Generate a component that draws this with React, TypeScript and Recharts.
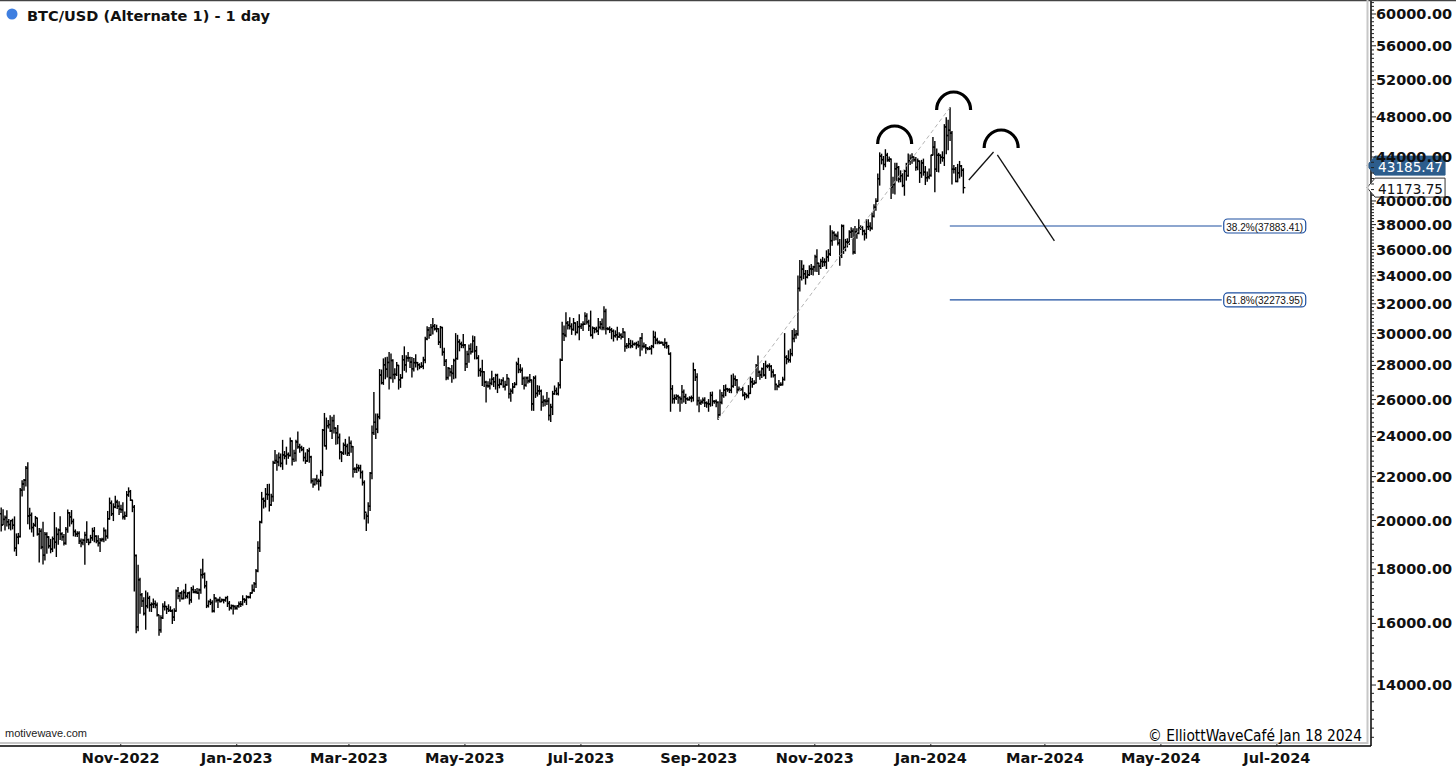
import React from 'react';
import { ComposedChart, Bar, XAxis, YAxis, ReferenceLine, ReferenceDot } from 'recharts';

// daily bars as [high, low, close] in USD thousands; open = previous close
type Day = [number, number, number];

const START = Date.UTC(2022, 7, 30);
const TOTAL_DAYS = 721;
const FIRST_OPEN = 20.3;

const aug22: Day[] = [[20.55,19.55,19.81],[20.48,19.83,20.05]];
const sep22: Day[] = [[20.2,19.6,20.13],[20.43,19.77,19.95],[20.05,19.65,19.83],[20.0,19.6,20.0],[20.06,19.64,19.8],[20.16,18.72,18.84],[19.43,18.54,19.29],[19.45,19.02,19.32],[21.44,19.3,21.36],[21.8,21.1,21.65],[21.86,21.36,21.83],[22.49,21.56,22.4],[22.67,19.86,20.2],[20.54,19.64,20.23],[20.33,19.51,19.7],[19.88,19.33,19.8],[20.18,19.75,20.11],[20.1,19.38,19.42],[19.66,18.28,19.54],[19.64,18.81,18.88],[19.93,18.2,18.55],[19.49,18.36,19.41],[19.48,18.63,19.3],[19.31,18.84,18.93],[19.2,18.65,18.8],[19.3,18.7,19.23],[20.35,18.84,19.08],[19.69,18.5,19.41],[19.64,19.0,19.59],[20.17,19.2,19.43]];
const oct22: Day[] = [[19.48,19.16,19.31],[19.4,18.97,19.04],[19.7,19.0,19.62],[20.46,19.5,20.34],[20.35,19.76,20.16],[20.44,19.86,19.96],[20.06,19.35,19.53],[19.6,19.33,19.42],[19.52,19.32,19.45],[19.52,19.03,19.13],[19.22,18.9,19.06],[19.21,18.98,19.16],[19.5,18.19,19.38],[19.95,19.07,19.19],[19.21,18.98,19.07],[19.37,19.07,19.27],[19.67,19.16,19.55],[19.7,19.1,19.33],[19.35,19.06,19.14],[19.35,18.93,19.05],[19.24,18.7,19.17],[19.25,19.12,19.2],[19.68,19.1,19.57],[19.6,19.16,19.33],[20.4,19.25,20.08],[21.0,20.06,20.77],[20.87,20.22,20.3],[20.74,20.0,20.6],[21.08,20.56,20.82],[20.9,20.53,20.63],[20.83,20.26,20.5]];
const nov22: Day[] = [[20.67,20.35,20.48],[20.79,20.07,20.16],[20.38,20.06,20.21],[21.3,20.18,21.15],[21.47,21.08,21.3],[21.35,20.89,20.9],[20.9,20.39,20.59],[20.66,17.17,18.54],[18.56,15.68,15.88],[18.15,15.75,17.59],[17.65,16.36,17.03],[17.07,16.6,16.8],[16.92,16.3,16.35],[17.17,15.8,16.62],[17.1,16.55,16.9],[16.97,16.43,16.66],[16.73,16.42,16.68],[16.87,16.56,16.7],[16.8,16.55,16.65],[16.73,16.26,16.3],[16.29,15.6,15.78],[16.27,15.7,16.2],[16.7,16.17,16.6],[16.77,16.47,16.6],[16.6,16.35,16.52],[16.66,16.42,16.46],[16.59,16.42,16.44],[16.48,16.0,16.22],[16.52,16.1,16.44],[17.2,16.43,17.17]];
const dec22: Day[] = [[17.3,16.88,16.98],[17.1,16.79,17.09],[17.16,16.87,16.89],[17.2,16.88,17.11],[17.42,16.9,16.97],[17.1,16.91,17.09],[17.13,16.69,16.84],[17.3,16.75,17.22],[17.35,17.1,17.13],[17.22,17.09,17.13],[17.26,17.07,17.09],[17.24,16.87,17.21],[18.0,17.08,17.78],[18.39,17.66,17.8],[17.85,17.28,17.36],[17.53,16.56,16.63],[16.8,16.58,16.78],[16.86,16.67,16.74],[16.81,16.4,16.44],[17.04,16.4,16.9],[16.91,16.76,16.82],[16.87,16.56,16.83],[16.94,16.76,16.78],[16.87,16.79,16.84],[16.86,16.73,16.83],[16.94,16.79,16.92],[16.97,16.6,16.71],[16.78,16.47,16.55],[16.65,16.51,16.63],[16.64,16.33,16.6],[16.63,16.5,16.54]];
const jan23: Day[] = [[16.63,16.5,16.62],[16.76,16.57,16.69],[16.78,16.6,16.68],[16.99,16.65,16.86],[16.88,16.75,16.83],[16.99,16.67,16.95],[16.97,16.91,16.94],[17.1,16.91,17.09],[17.39,17.09,17.2],[17.49,17.15,17.44],[17.99,17.3,17.93],[19.1,17.9,18.85],[19.97,18.7,19.93],[21.26,19.9,20.95],[21.0,20.55,20.87],[21.44,20.6,21.17],[21.63,20.94,21.16],[21.64,20.42,20.69],[21.18,20.66,21.07],[22.74,20.86,22.67],[23.28,22.63,22.78],[23.07,22.3,22.71],[23.16,22.52,22.93],[23.1,22.48,22.64],[23.8,22.35,23.06],[23.23,22.87,23.0],[23.45,22.6,23.08],[23.16,22.89,23.03],[23.92,23.0,23.77],[23.78,22.56,22.84],[23.3,22.73,23.14]];
const feb23: Day[] = [[23.8,22.76,23.72],[24.23,23.4,23.47],[23.6,23.2,23.43],[23.5,23.27,23.33],[23.43,22.76,22.93],[23.16,22.64,22.76],[23.33,22.74,23.26],[23.4,22.7,22.96],[22.99,21.7,21.8],[21.9,21.5,21.63],[21.9,21.6,21.86],[22.06,21.65,21.78],[21.88,21.37,21.78],[22.3,21.55,22.2],[24.37,22.05,24.33],[25.23,23.52,23.52],[24.98,23.35,24.57],[24.85,24.44,24.63],[25.1,24.26,24.3],[25.02,23.9,24.84],[25.13,24.18,24.44],[24.45,23.6,24.19],[24.58,23.63,23.95],[24.13,22.86,23.2],[23.22,22.73,23.15],[23.66,23.08,23.55],[23.85,23.1,23.49],[23.6,23.03,23.15]];
const mar23: Day[] = [[23.98,23.03,23.65],[23.77,23.2,23.48],[23.48,21.98,22.36],[22.43,22.2,22.35],[22.6,22.2,22.43],[22.55,22.27,22.41],[22.55,21.93,22.2],[22.27,21.6,21.72],[21.8,20.07,20.36],[20.3,19.57,20.19],[20.79,19.9,20.63],[22.2,20.44,22.16],[24.55,21.9,24.2],[26.4,24.1,24.75],[25.2,23.9,24.38],[25.2,24.2,25.05],[27.75,24.94,27.42],[27.72,26.9,26.97],[28.4,26.87,28.04],[28.47,27.2,27.77],[28.5,27.3,28.18],[28.8,26.6,27.27],[28.7,27.2,28.3],[28.35,27.0,27.45],[27.8,27.2,27.46],[28.18,27.4,28.0],[28.0,26.6,27.14],[27.45,26.7,27.26],[28.6,27.25,28.35],[29.15,27.7,28.03],[28.6,27.6,28.46]];
const apr23: Day[] = [[28.8,28.25,28.47],[28.5,27.87,28.2],[28.48,27.3,27.8],[28.43,27.67,28.17],[28.66,27.9,28.17],[28.18,27.73,28.04],[28.1,27.8,27.92],[28.17,27.88,27.95],[28.5,27.8,28.33],[29.77,28.17,29.65],[30.45,29.6,30.24],[30.4,29.7,29.9],[30.6,29.9,30.4],[31.0,29.97,30.49],[30.6,30.24,30.32],[30.55,30.12,30.32],[30.32,29.3,29.45],[30.47,29.1,30.4],[30.41,28.63,28.82],[29.07,28.0,28.25],[28.36,27.14,27.27],[27.88,27.17,27.82],[27.82,27.36,27.6],[28.0,27.0,27.52],[28.37,27.2,28.3],[30.0,27.25,28.42],[29.89,28.38,29.47],[29.6,28.9,29.34],[29.45,29.1,29.25],[29.95,29.1,29.27]];
const may23: Day[] = [[29.3,27.7,28.1],[28.88,27.87,28.68],[29.26,28.2,29.03],[29.35,28.7,28.85],[29.84,28.83,29.53],[29.8,28.4,28.9],[29.18,28.4,28.45],[28.6,27.35,27.7],[27.82,27.37,27.63],[28.32,26.8,27.62],[27.62,26.75,27.0],[27.05,25.87,26.8],[27.03,26.7,26.78],[27.18,26.6,26.93],[27.65,26.85,27.17],[27.27,26.75,27.03],[27.47,26.6,27.4],[27.47,26.4,26.83],[27.18,26.67,26.89],[27.15,26.85,27.1],[27.26,26.7,26.75],[27.05,26.55,26.85],[27.45,26.82,27.22],[27.2,26.09,26.33],[26.6,25.9,26.48],[26.93,26.36,26.72],[26.98,26.7,26.87],[28.2,26.85,28.08],[28.44,27.56,27.75],[28.05,27.58,27.7],[27.84,26.86,27.22]];
const jun23: Day[] = [[27.3,26.6,26.82],[27.3,26.76,27.25],[27.3,26.95,27.07],[27.45,27.0,27.12],[27.13,25.41,25.76],[27.33,25.4,27.24],[27.37,26.12,26.35],[26.8,26.2,26.5],[26.77,26.3,26.48],[26.54,25.4,25.85],[26.2,25.63,25.94],[26.0,25.66,25.9],[26.4,25.73,25.92],[26.08,24.88,25.12],[25.74,24.8,25.58],[26.47,25.17,26.33],[26.78,26.3,26.51],[26.66,26.28,26.34],[26.97,26.26,26.84],[28.39,26.66,28.32],[30.74,28.3,29.99],[30.5,29.56,29.89],[31.38,29.8,30.69],[30.79,30.3,30.55],[31.05,30.3,30.47],[30.65,29.95,30.27],[31.0,30.22,30.7],[30.7,29.92,30.08],[30.8,30.04,30.45],[31.26,29.6,30.47]];
const jul23: Day[] = [[30.65,30.33,30.59],[30.78,30.2,30.62],[31.38,30.6,31.16],[31.32,30.63,30.77],[30.88,30.2,30.5],[31.5,29.85,29.9],[30.44,29.7,30.35],[30.38,30.05,30.29],[30.42,30.1,30.17],[31.0,29.95,30.41],[30.79,30.3,30.62],[30.96,30.26,30.39],[31.8,30.25,31.48],[31.63,29.97,30.33],[30.39,30.25,30.3],[30.44,30.07,30.25],[30.34,29.67,30.15],[30.24,29.52,29.86],[30.18,29.77,29.92],[30.42,29.58,29.8],[30.05,29.74,29.9],[29.99,29.65,29.8],[30.33,29.74,30.08],[30.1,28.87,29.18],[29.37,29.06,29.23],[29.68,29.1,29.35],[29.57,29.09,29.22],[29.53,29.12,29.31],[29.4,29.26,29.35],[29.45,29.03,29.28],[29.5,29.12,29.23]];
const aug23: Day[] = [[29.73,28.6,29.7],[30.0,28.95,29.18],[29.4,29.1,29.18],[29.3,28.75,29.07],[29.1,28.96,29.04],[29.16,28.98,29.04],[29.24,28.7,29.18],[30.16,29.1,29.77],[30.1,29.35,29.58],[29.7,29.35,29.44],[29.53,29.35,29.4],[29.47,29.38,29.42],[29.45,29.26,29.28],[29.66,29.1,29.4],[29.45,29.07,29.17],[29.24,28.7,28.7],[28.78,25.35,26.62],[26.8,25.8,26.05],[26.26,25.8,26.1],[26.27,26.0,26.19],[26.25,25.8,26.12],[26.14,25.35,26.04],[26.8,25.8,26.43],[26.54,25.86,26.16],[26.3,25.78,26.05],[26.1,25.97,26.0],[26.16,25.97,26.09],[26.2,25.88,26.1],[28.14,25.92,27.73],[27.76,27.1,27.3],[27.5,25.7,25.94]];
const sep23: Day[] = [[26.13,25.33,25.8],[25.98,25.72,25.87],[26.09,25.8,25.97],[26.1,25.62,25.82],[25.87,25.57,25.78],[26.0,25.35,25.75],[26.41,25.63,26.24],[26.43,25.66,25.9],[25.94,25.8,25.9],[25.98,25.6,25.84],[25.88,24.9,25.16],[26.54,25.13,25.84],[26.4,25.77,26.23],[26.8,26.13,26.54],[26.84,26.22,26.6],[26.64,26.47,26.57],[26.62,26.4,26.53],[27.41,26.39,26.76],[27.48,26.7,27.2],[27.37,26.8,27.13],[27.16,26.37,26.57],[26.72,26.5,26.58],[26.63,26.53,26.58],[26.7,26.2,26.25],[26.4,26.0,26.3],[26.3,26.1,26.22],[26.8,26.1,26.35],[27.3,26.35,27.02],[27.22,26.7,26.9],[27.08,26.9,26.97]];
const oct23: Day[] = [[28.05,26.95,27.98],[28.58,27.33,27.59],[27.66,27.17,27.43],[27.84,27.27,27.8],[28.12,27.37,27.42],[28.26,27.22,27.95],[28.03,27.86,27.97],[28.1,27.7,27.94],[27.99,27.3,27.6],[27.74,27.3,27.4],[27.45,26.56,26.87],[26.8,26.56,26.76],[27.1,26.7,26.86],[26.97,26.8,26.86],[27.29,26.84,27.16],[30.0,27.12,28.5],[28.6,28.1,28.4],[28.9,28.2,28.33],[29.0,28.2,28.72],[30.2,28.6,29.68],[30.3,29.48,29.91],[30.2,29.7,29.99],[34.0,29.9,33.09],[35.15,32.9,33.9],[35.13,33.7,34.5],[34.8,33.8,34.16],[34.4,33.4,33.9],[34.4,33.85,34.09],[34.75,34.03,34.53],[34.85,34.1,34.5],[34.72,34.07,34.67]];
const nov23: Day[] = [[35.55,34.35,35.44],[35.98,34.33,34.94],[34.95,34.1,34.73],[35.25,34.55,35.08],[35.39,34.7,35.05],[35.28,34.75,35.05],[35.9,34.55,35.42],[35.99,35.1,35.65],[37.9,35.53,36.7],[37.5,36.33,37.33],[37.41,36.73,37.13],[37.23,36.77,37.07],[37.4,36.35,36.5],[36.8,34.8,35.55],[37.98,35.38,37.88],[37.95,35.7,36.16],[36.8,35.9,36.6],[36.85,36.2,36.57],[37.5,36.4,37.38],[37.75,36.95,37.47],[37.65,35.65,35.81],[37.85,35.7,37.42],[37.65,36.9,37.29],[38.4,37.25,37.72],[37.9,37.6,37.8],[37.82,37.17,37.48],[37.55,36.75,37.25],[38.4,36.9,37.83],[38.4,37.6,37.85],[38.15,37.5,37.71]];
const dec23: Day[] = [[38.97,37.62,38.69],[39.68,38.64,39.46],[40.2,39.2,39.97],[42.4,39.98,41.98],[44.4,41.4,44.08],[44.27,43.35,43.75],[44.05,42.82,43.29],[44.7,43.08,44.17],[44.35,43.6,43.72],[44.0,43.57,43.79],[43.8,40.22,41.24],[42.1,40.68,41.45],[43.4,40.6,42.89],[43.42,41.8,43.02],[43.1,41.68,41.94],[42.7,41.7,42.26],[42.43,41.26,41.36],[42.75,40.5,42.66],[43.4,41.85,42.26],[44.28,42.2,43.65],[44.2,43.3,43.87],[44.3,43.4,43.99],[44.0,43.6,43.74],[43.95,42.75,43.02],[43.8,42.8,43.61],[43.6,41.64,42.52],[43.68,42.1,43.44],[43.8,42.3,42.58],[43.1,41.45,42.07],[42.6,41.75,42.14],[42.87,41.97,42.28]];
const jan24: Day[] = [[44.18,42.2,44.18],[45.9,44.2,44.95],[45.5,40.8,42.85],[44.77,42.65,44.17],[44.35,42.6,44.16],[44.2,43.4,43.97],[44.5,43.6,43.93],[47.2,43.2,46.97],[47.9,44.3,46.1],[47.65,44.7,46.63],[48.97,45.6,46.34],[46.5,41.5,42.85],[43.2,42.5,42.84],[43.0,41.7,41.73],[43.3,41.7,42.51],[43.58,42.05,43.15],[43.2,42.2,42.75],[42.9,40.7,41.17375]];

const months: Day[][] = [aug22, sep22, oct22, nov22, dec22, jan23, feb23, mar23, apr23, may23, jun23, jul23, aug23, sep23, oct23, nov23, dec23, jan24];

const xTickLabels = ['Nov-2022', 'Jan-2023', 'Mar-2023', 'May-2023', 'Jul-2023', 'Sep-2023', 'Nov-2023', 'Jan-2024', 'Mar-2024', 'May-2024', 'Jul-2024'];
const yLabels = [14000, 16000, 18000, 20000, 22000, 24000, 26000, 28000, 30000, 32000, 34000, 36000, 38000, 40000, 44000, 48000, 52000, 56000, 60000];

const lastPrice = 41173.75;
const markPrice = 43185.47;
const fibLevels = [{ pct: '38.2%', value: 37883.41 }, { pct: '61.8%', value: 32273.95 }];

const MON = ['Jan', 'Feb', 'Mar', 'Apr', 'May', 'Jun', 'Jul', 'Aug', 'Sep', 'Oct', 'Nov', 'Dec'];
const dayLabel = (i: number) => {
  const d = new Date(START + i * 86400000);
  if (d.getUTCDate() !== 1) return '';
  return `${MON[d.getUTCMonth()]}-${d.getUTCFullYear()}`;
};

const bars = months.flat();
const data: any[] = [];
let prev = FIRST_OPEN;
for (let i = 0; i < TOTAL_DAYS; i++) {
  const row: any = { i };
  if (i < bars.length) {
    const [h, l, c] = bars[i];
    row.o = prev * 1000;
    row.h = h * 1000;
    row.l = l * 1000;
    row.c = c * 1000;
    row.range = [l * 1000, h * 1000];
    prev = c;
  }
  data.push(row);
}

const yTicks: number[] = [];
for (let v = 12500; v <= 40000; v += 250) yTicks.push(v);
for (let v = 40500; v <= 61500; v += 500) yTicks.push(v);

const axisFont = { fontFamily: 'DejaVu Sans, Verdana, sans-serif', fontWeight: 700, fontSize: 14.5, fill: '#111' };

const OhlcShape = (props: any) => {
  const { x, y, width, height, payload } = props;
  if (!payload || payload.h == null) return null;
  const top = Math.min(y, y + height);
  const bot = Math.max(y, y + height);
  const cx = x + width / 2;
  const span = Math.log(payload.h) - Math.log(payload.l) || 1;
  const at = (v: number) => top + ((bot - top) * (Math.log(payload.h) - Math.log(v))) / span;
  return (
    <g stroke="#000" strokeWidth={1.4}>
      <line x1={cx} x2={cx} y1={top - 0.5} y2={bot + 0.5} />
      <line x1={cx - 2} x2={cx} y1={at(payload.o)} y2={at(payload.o)} />
      <line x1={cx} x2={cx + 2} y1={at(payload.c)} y2={at(payload.c)} />
    </g>
  );
};

const XTick = ({ x, y, payload }: any) => {
  const lab = dayLabel(payload.value);
  if (!xTickLabels.includes(lab)) return <g />;
  return (
    <g>
      <line x1={x} x2={x} y1={y - 4} y2={y} stroke="#222" />
      <text x={x} y={y + 12} textAnchor="middle" dominantBaseline="central" style={axisFont}>{lab}</text>
    </g>
  );
};

const YTick = ({ x, y, payload }: any) => {
  const v = payload.value;
  const major = yLabels.includes(v);
  return (
    <g>
      <line x1={x} x2={x + (major ? 5 : 3)} y1={y} y2={y} stroke="#222" />
      {major && (
        <text x={x + 5} y={y} dominantBaseline="central" style={axisFont}>{v.toFixed(2)}</text>
      )}
    </g>
  );
};

const Arc = ({ cx, cy }: any) => (
  <path d={`M ${cx - 17} ${cy} A 17 18 0 0 1 ${cx + 17} ${cy}`} fill="none" stroke="#000" strokeWidth={3.2} />
);

const FibLabel = (text: string) => ({ cx, cy }: any) => (
  <g>
    <rect x={cx + 2} y={cy - 7} width={82} height={14} rx={4} fill="#fff" stroke="#1d4fa0" strokeWidth={1.2} />
    <text x={cx + 43} y={cy + 0.5} textAnchor="middle" dominantBaseline="central" fontFamily="Liberation Sans, Arial, sans-serif" fontSize={10.5} fill="#111" textLength={77} lengthAdjust="spacingAndGlyphs">{text}</text>
  </g>
);

const PriceBadge = (text: string, filled: boolean) => ({ cx, cy }: any) => {
  const l = cx - 3;
  const pts = `${l},${cy} ${l + 8},${cy - 9.5} ${l + 78},${cy - 9.5} ${l + 78},${cy + 9.5} ${l + 8},${cy + 9.5}`;
  return (
    <g>
      <polygon points={pts} fill={filled ? '#2d5d8c' : '#fff'} stroke={filled ? '#2d5d8c' : '#333'} strokeWidth={1} />
      <text x={l + 11} y={cy + 1} dominantBaseline="central" fontFamily="DejaVu Sans, Verdana, sans-serif" fontSize={14} fill={filled ? '#fff' : '#111'} textLength={65} lengthAdjust="spacingAndGlyphs">{text}</text>
    </g>
  );
};

export default function App() {
  return (
    <div style={{ position: 'absolute', left: 0, top: 0, width: 1456, height: 766, background: '#fff', overflow: 'hidden' }}>
      <ComposedChart width={1456} height={766} data={data} margin={{ top: 0, right: 0, bottom: 0, left: 0 }}>
        <XAxis dataKey="i" type="category" interval={0} height={20} tickSize={0} tickMargin={0} tickLine={false} tick={<XTick />} axisLine={{ stroke: '#000', strokeWidth: 1.5 }} />
        <YAxis orientation="right" width={85} scale="log" type="number" domain={[12266, 61849]} allowDataOverflow ticks={yTicks} interval={0} tickSize={0} tickMargin={0} tickLine={false} tick={<YTick />} axisLine={{ stroke: '#000', strokeWidth: 1.5 }} />
        <Bar dataKey="range" isAnimationActive={false} shape={<OhlcShape />} />
        <ReferenceLine segment={[{ x: 377, y: 24900 }, { x: 499, y: 48970 }]} stroke="#b5b5b5" strokeDasharray="4 3" ifOverflow="visible" />
        {fibLevels.map((f) => (
          <ReferenceLine key={f.pct} segment={[{ x: 499, y: f.value }, { x: 642, y: f.value }]} stroke="#1d4fa0" strokeWidth={1.2} ifOverflow="visible" />
        ))}
        {fibLevels.map((f) => (
          <ReferenceDot key={f.pct + 'l'} x={642} y={f.value} r={0} ifOverflow="visible" shape={FibLabel(`${f.pct}(${f.value.toFixed(2)})`)} />
        ))}
        <ReferenceLine segment={[{ x: 509, y: 41860 }, { x: 522, y: 44480 }]} stroke="#111" strokeWidth={1.3} ifOverflow="visible" />
        <ReferenceLine segment={[{ x: 524, y: 44200 }, { x: 554, y: 36680 }]} stroke="#111" strokeWidth={1.3} ifOverflow="visible" />
        <ReferenceDot x={470} y={45260} r={0} ifOverflow="visible" shape={<Arc />} />
        <ReferenceDot x={501} y={48720} r={0} ifOverflow="visible" shape={<Arc />} />
        <ReferenceDot x={526} y={44870} r={0} ifOverflow="visible" shape={<Arc />} />
        <ReferenceDot x={720} y={markPrice} r={0} ifOverflow="visible" shape={PriceBadge(markPrice.toFixed(2), true)} />
        <ReferenceDot x={720} y={lastPrice} r={0} ifOverflow="visible" shape={PriceBadge(lastPrice.toFixed(2), false)} />
      </ComposedChart>
      <svg width={1456} height={766} style={{ position: 'absolute', left: 0, top: 0, pointerEvents: 'none' }}>
        <line x1={0} x2={1456} y1={0.5} y2={0.5} stroke="#444" strokeWidth={1.5} />
        <line x1={1367.5} x2={1367.5} y1={0} y2={744} stroke="#c8c8c8" strokeWidth={2} />
        <line x1={0} x2={1368} y1={743} y2={743} stroke="#c8c8c8" strokeWidth={2} />
        <circle cx={12} cy={14} r={5.5} fill="#3f7fe0" />
        <text x={27} y={16} dominantBaseline="central" fontFamily="DejaVu Sans, Verdana, sans-serif" fontWeight={700} fontSize={14.5} fill="#111" textLength={243} lengthAdjust="spacingAndGlyphs">BTC/USD (Alternate 1) - 1 day</text>
        <text x={5} y={733} dominantBaseline="central" fontFamily="Liberation Sans, Arial, sans-serif" fontSize={11} fill="#222">motivewave.com</text>
        <text x={1148} y={735} dominantBaseline="central" fontFamily="DejaVu Sans Condensed, DejaVu Sans, sans-serif" fontSize={16} fill="#000" textLength={214} lengthAdjust="spacingAndGlyphs">© ElliottWaveCafé Jan 18 2024</text>
      </svg>
    </div>
  );
}
